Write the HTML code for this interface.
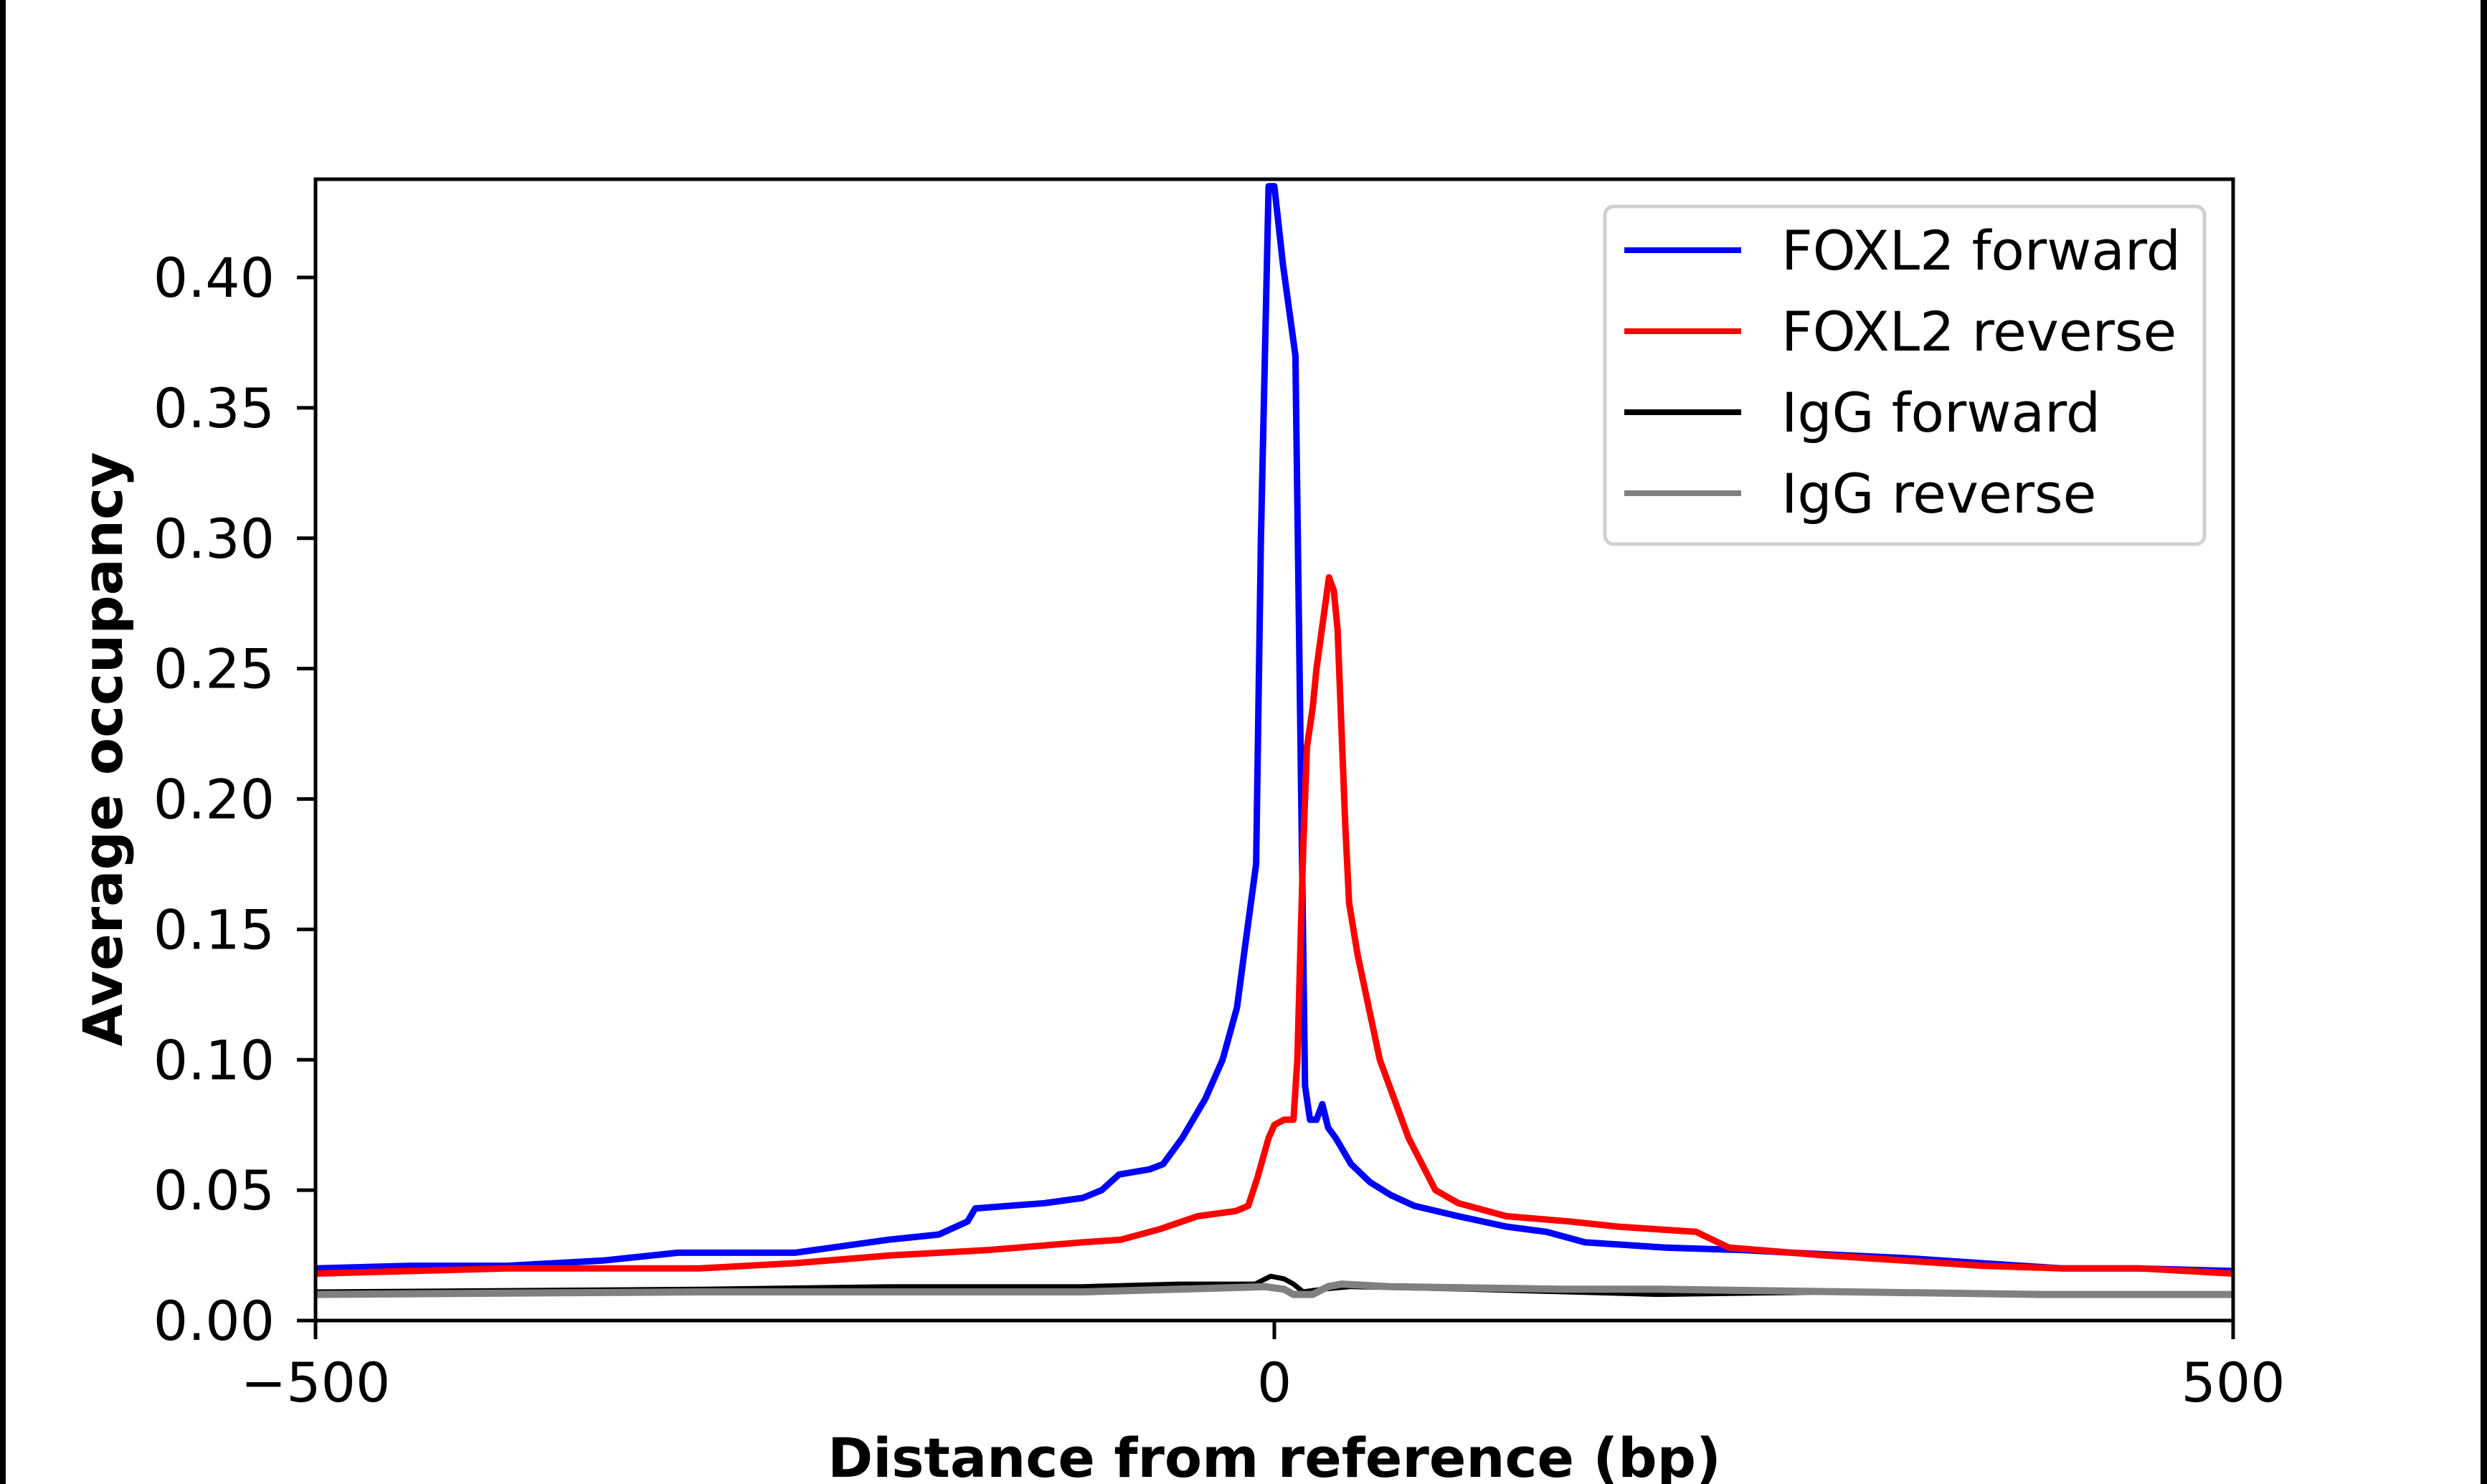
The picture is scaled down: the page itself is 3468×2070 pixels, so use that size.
<!DOCTYPE html>
<html><head><meta charset="utf-8"><style>
html,body{margin:0;padding:0;background:#fff;}
svg{display:block;}
text{font-family:"DejaVu Sans","Liberation Sans",sans-serif;}
</style></head><body>
<svg id="chart" width="3468" height="2070" viewBox="0 0 3468 2070" xmlns="http://www.w3.org/2000/svg">
<rect x="0" y="0" width="3468" height="2070" fill="#fff"/>
<rect x="0" y="0" width="8" height="2070" fill="#000"/>
<rect x="3459" y="0" width="9" height="2070" fill="#000"/>
<g id="plot"></g>
<g id="axes"></g>
<g id="legend"></g>
</svg>
<script>
const xTicks = [-500, 0, 500];
const xTickLabels = ["\u2212500", "0", "500"];
const yTicks = [0, 0.05, 0.10, 0.15, 0.20, 0.25, 0.30, 0.35, 0.40];
const yTickLabels = ["0.00","0.05","0.10","0.15","0.20","0.25","0.30","0.35","0.40"];
const seriesNames = ["FOXL2 forward","FOXL2 reverse","IgG forward","IgG reverse"];
const seriesColors = ["#0000ff","#ff0000","#000000","#808080"];

const blueX = [-500,-450,-400,-350,-311,-250,-201,-175,-160,-156,-120,-100,-90,-81,-65,-58,-48,-36,-27,-19.5,-15,-9.5,-7,-3,0,4.5,11,16,18.6,22,25,28,32,40,50,61,73,96,121,142,162,204,245,270,328,369,411,450,500];
const blueY = [0.020,0.021,0.021,0.023,0.026,0.026,0.031,0.033,0.038,0.043,0.045,0.047,0.050,0.056,0.058,0.060,0.070,0.085,0.100,0.120,0.145,0.175,0.300,0.435,0.435,0.405,0.370,0.090,0.077,0.077,0.083,0.074,0.070,0.060,0.053,0.048,0.044,0.040,0.036,0.034,0.030,0.028,0.027,0.026,0.024,0.022,0.020,0.020,0.019];
const redX = [-500,-400,-300,-250,-200,-150,-100,-80,-60,-40,-20,-13.6,-8.7,-3,0,5,10,12,15,17,20,22,28.5,31,33,37,39,43.5,55,70,84,96,121,154,179,200,220,237,287,328,369,411,452,500];
const redY = [0.018,0.020,0.020,0.022,0.025,0.027,0.030,0.031,0.035,0.040,0.042,0.044,0.055,0.070,0.075,0.077,0.077,0.100,0.180,0.220,0.235,0.250,0.285,0.280,0.265,0.190,0.160,0.140,0.100,0.070,0.050,0.045,0.040,0.038,0.036,0.035,0.034,0.028,0.025,0.023,0.021,0.020,0.020,0.018];
const igfX = [-500,-300,-200,-100,-50,-10,-2,5,10,15,25,40,100,200,300,400,500];
const igfY = [0.011,0.012,0.013,0.013,0.014,0.014,0.017,0.016,0.014,0.011,0.012,0.013,0.012,0.010,0.011,0.010,0.010];
const igrX = [-500,-300,-200,-100,-50,-5,5,10,20,28,35,60,150,200,300,400,500];
const igrY = [0.010,0.011,0.011,0.011,0.012,0.013,0.012,0.010,0.010,0.013,0.014,0.013,0.012,0.012,0.011,0.010,0.010];

const L=440,R=3114,T=250,B=1842;
const xMin=-500,xMax=500,yMin=0,yPerUnit=3637.5;
function sx(v){return L+(v-xMin)/(xMax-xMin)*(R-L);}
function sy(v){return B-(v-yMin)*yPerUnit;}
const NS="http://www.w3.org/2000/svg";
const plot=document.getElementById('plot');
const axes=document.getElementById('axes');
const legend=document.getElementById('legend');
function mk(tag,attrs,parent){const e=document.createElementNS(NS,tag);for(const k in attrs)e.setAttribute(k,attrs[k]);parent.appendChild(e);return e;}

const clip=mk('clipPath',{id:'clipA'},plot);
mk('rect',{x:L,y:T,width:R-L,height:B-T},clip);
const allX=[blueX,redX,igfX,igrX], allY=[blueY,redY,igfY,igrY];
const lineNames=['foxl2-forward-line','foxl2-reverse-line','igg-forward-line','igg-reverse-line'];
const widths=[9,9,7,10];
[2,3,0,1].forEach(i=>{
  const d=allX[i].map((x,j)=>(j?'L':'M')+sx(x).toFixed(1)+' '+sy(allY[i][j]).toFixed(1)).join(' ');
  const p=mk('path',{d:d,fill:'none',stroke:seriesColors[i],'stroke-width':widths[i],'stroke-linejoin':'round','clip-path':'url(#clipA)'},plot);
  
  
});

const frame=mk('rect',{x:L,y:T,width:R-L,height:B-T,fill:'none',stroke:'#000','stroke-width':5},axes);



xTicks.forEach((v,i)=>{
  const t=mk('line',{x1:sx(v),x2:sx(v),y1:B,y2:B+26,stroke:'#000','stroke-width':5},axes);
  
  
  const tx=mk('text',{x:sx(v),y:1955,'font-size':76,'text-anchor':'middle',fill:'#000'},axes);
  tx.textContent=xTickLabels[i];
  
  
});
yTicks.forEach((v,i)=>{
  const t=mk('line',{x1:L-26,x2:L,y1:sy(v),y2:sy(v),stroke:'#000','stroke-width':5},axes);
  
  
  const tx=mk('text',{x:383,y:sy(v)+27,'font-size':76,'text-anchor':'end',fill:'#000'},axes);
  tx.textContent=yTickLabels[i];
  
  
});
const xl=mk('text',{x:1777,y:2060,'font-size':76,'font-weight':'bold','text-anchor':'middle',fill:'#000'},axes);
xl.textContent='Distance from reference (bp)';


const yl=mk('text',{x:0,y:0,'font-size':76,'font-weight':'bold','text-anchor':'middle',fill:'#000',transform:'translate(170 1045) rotate(-90)'},axes);
yl.textContent='Average occupancy';



const lb=mk('rect',{x:2238,y:288,width:836,height:471,rx:12,fill:'#fff','fill-opacity':0.8,stroke:'#d0d0d0','stroke-width':5},legend);


seriesNames.forEach((n,i)=>{
  const y=349+i*113;
  const ln=mk('line',{x1:2265,x2:2428,y1:y,y2:y,stroke:seriesColors[i],'stroke-width':8},legend);
  
  
  const tx=mk('text',{x:2484,y:y+27,'font-size':76,fill:'#000'},legend);
  tx.textContent=n;
  
  
});
</script>
</body></html>
